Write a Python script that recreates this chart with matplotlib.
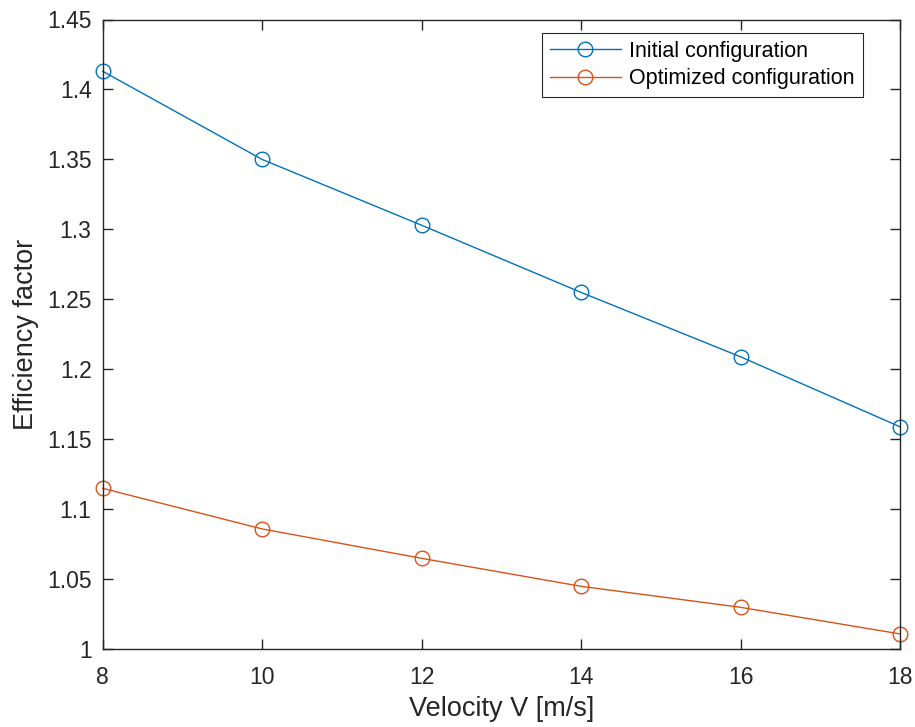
import matplotlib
matplotlib.use('Agg')
import matplotlib.pyplot as plt

plt.rcParams['font.family'] = ['Liberation Sans', 'DejaVu Sans']
plt.rcParams['font.size'] = 16

velocity = [8, 10, 12, 14, 16, 18]
eff_initial = [1.413, 1.350, 1.303, 1.255, 1.209, 1.159]
eff_optimized = [1.115, 1.086, 1.065, 1.045, 1.030, 1.011]

fig = plt.figure(figsize=(9.15, 7.27), dpi=100)
ax = fig.add_axes([102.7 / 915, 1 - 649.3 / 727, (900 - 102.7) / 915, (649.3 - 19.5) / 727])

ax.plot(velocity, eff_initial, '-o', color='#0072BD', linewidth=1.0, markersize=10.5,
        markerfacecolor='none', markeredgewidth=1.0, label='Initial configuration', clip_on=False)
ax.plot(velocity, eff_optimized, '-o', color='#D95319', linewidth=1.0, markersize=10.5,
        markerfacecolor='none', markeredgewidth=1.0, label='Optimized configuration', clip_on=False)

ax.set_xlim(8, 18)
ax.set_ylim(1, 1.45)
ax.set_xticks([8, 10, 12, 14, 16, 18])
ax.set_yticks([1, 1.05, 1.1, 1.15, 1.2, 1.25, 1.3, 1.35, 1.4, 1.45])
ax.set_yticklabels(['1', '1.05', '1.1', '1.15', '1.2', '1.25', '1.3', '1.35', '1.4', '1.45'])

ax.tick_params(direction='in', length=7, width=1.0, colors='#262626', labelsize=16.5,
               top=True, right=True)
ax.tick_params(axis='x', pad=12)
ax.tick_params(axis='y', pad=8)
for s in ax.spines.values():
    s.set_color('#262626')
    s.set_linewidth(1.0)

ax.set_xlabel('Velocity V [m/s]', fontsize=19.5, color='#262626', labelpad=5)
ax.set_ylabel('Efficiency factor', fontsize=19.5, color='#262626', labelpad=6)

leg = ax.legend(loc='upper right', bbox_to_anchor=(0.953, 0.978), borderaxespad=0, fontsize=15.5,
                frameon=True, fancybox=False, edgecolor='#262626', framealpha=1,
                handlelength=3.3, borderpad=0.35, labelspacing=0.3, handletextpad=0.4)
leg.get_frame().set_linewidth(0.8)

fig.savefig('out.png', dpi=100)
